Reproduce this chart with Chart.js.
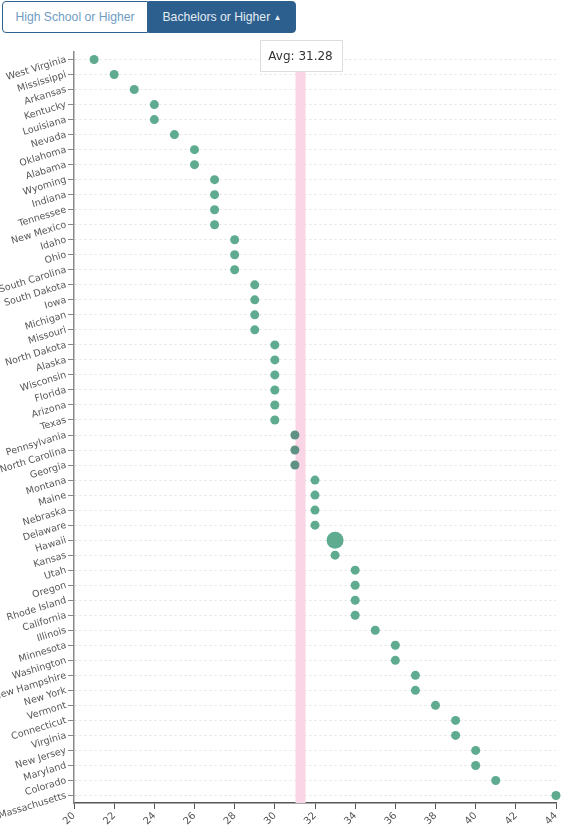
<!DOCTYPE html>
<html>
<head>
<meta charset="utf-8">
<script src="https://cdn.jsdelivr.net/npm/chart.js@4.4.1/dist/chart.umd.min.js"></script>
<style>
  body { margin: 0; background: #fff; font-family: "Liberation Sans", Arial, sans-serif; }
  .btns { position: absolute; left: 2px; top: 1px; display: flex; }
  .btn { height: 32px; box-sizing: border-box; font-size: 12.2px; padding: 0; border: 1px solid #2c6190;
         font-family: "Liberation Sans", Arial, sans-serif; }
  .btn.off { background: #fff; color: #6f9cc4; border-radius: 4px 0 0 4px; width: 146px; }
  .btn.on { background: #2c5f8e; color: #e3ebf3; border-radius: 0 4px 4px 0; width: 148px; }
  .caret { font-size: 8px; vertical-align: 1px; }
  #wrap { position: absolute; left: 0; top: 36px; width: 582px; height: 801px; }
</style>
</head>
<body>
<div class="btns">
  <button class="btn off">High School or Higher</button>
  <button class="btn on">Bachelors or Higher <span class="caret">&#9650;</span></button>
</div>
<div id="wrap"><canvas id="chart"></canvas></div>
<script>
// States sorted by share with a bachelor's degree or higher (%)
const states = [
  'West Virginia', 'Mississippi', 'Arkansas', 'Kentucky', 'Louisiana', 'Nevada',
  'Oklahoma', 'Alabama', 'Wyoming', 'Indiana', 'Tennessee', 'New Mexico',
  'Idaho', 'Ohio', 'South Carolina', 'South Dakota', 'Iowa', 'Michigan', 'Missouri',
  'North Dakota', 'Alaska', 'Wisconsin', 'Florida', 'Arizona', 'Texas',
  'Pennsylvania', 'North Carolina', 'Georgia', 'Montana', 'Maine', 'Nebraska',
  'Delaware', 'Hawaii', 'Kansas', 'Utah', 'Oregon', 'Rhode Island', 'California',
  'Illinois', 'Minnesota', 'Washington', 'New Hampshire', 'New York', 'Vermont',
  'Connecticut', 'Virginia', 'New Jersey', 'Maryland', 'Colorado', 'Massachusetts'
];
const bachelors = [
  21, 22, 23, 24, 24, 25,
  26, 26, 27, 27, 27, 27,
  28, 28, 28, 29, 29, 29, 29,
  30, 30, 30, 30, 30, 30,
  31, 31, 31, 32, 32, 32,
  32, 33, 33, 34, 34, 34, 34,
  35, 36, 36, 37, 37, 38,
  39, 39, 40, 40, 41, 44
];
const xMin = 20;
const xMax = 44;
const xStep = 2;
const highlighted = 'Hawaii';

const avg = bachelors.reduce((a, b) => a + b, 0) / bachelors.length;

const dotColor = '#5eab90';
const nearAvgColor = '#5f9284';

const avgBand = {
  id: 'avgBand',
  beforeDatasetsDraw(chart) {
    const {ctx, chartArea, scales: {x}} = chart;
    const x1 = x.getPixelForValue(avg - 0.25);
    const x2 = x.getPixelForValue(avg + 0.25);
    ctx.save();
    ctx.fillStyle = '#f9d5e5';
    ctx.fillRect(x1, chartArea.top, x2 - x1, chartArea.bottom - chartArea.top);
    ctx.restore();
  },
  afterDatasetsDraw(chart) {
    const {ctx, scales: {x}} = chart;
    const cx = x.getPixelForValue(avg);
    const text = 'Avg: ' + avg.toFixed(2);
    ctx.save();
    ctx.font = '12px "DejaVu Sans"';
    const w = Math.round(ctx.measureText(text).width + 18);
    const h = 31;
    const top = 4;
    const left = Math.round(cx - w / 2);
    ctx.fillStyle = '#fff';
    ctx.strokeStyle = '#dddddd';
    ctx.lineWidth = 1;
    ctx.fillRect(left, top, w, h);
    ctx.strokeRect(left + 0.5, top + 0.5, w, h);
    ctx.fillStyle = '#333';
    ctx.textAlign = 'center';
    ctx.textBaseline = 'middle';
    ctx.fillText(text, cx, top + h / 2 + 1);
    ctx.restore();
  }
};

const ctx = document.getElementById('chart').getContext('2d');
new Chart(ctx, {
  type: 'scatter',
  data: {
    datasets: [{
      data: states.map((s, i) => ({x: bachelors[i], y: s})),
      backgroundColor: c => Math.abs(bachelors[c.dataIndex] - avg) < 0.5 ? nearAvgColor : dotColor,
      borderWidth: 0,
      pointRadius: c => states[c.dataIndex] === highlighted ? 8.5 : 4.5,
      pointHoverRadius: c => states[c.dataIndex] === highlighted ? 8.5 : 4.5,
      clip: false
    }]
  },
  options: {
    responsive: true,
    maintainAspectRatio: false,
    animation: false,
    layout: { padding: { top: 16, right: 26, bottom: 4, left: 0 } },
    plugins: {
      legend: { display: false },
      tooltip: { enabled: false }
    },
    scales: {
      x: {
        type: 'linear',
        min: xMin,
        max: xMax,
        afterFit: s => { s.height = 30; },
        grid: { display: true, drawOnChartArea: false, drawTicks: true, tickLength: 6, tickColor: '#555' },
        border: { color: '#555', width: 1.5 },
        ticks: {
          stepSize: xStep,
          minRotation: 45,
          maxRotation: 45,
          padding: 1,
          color: '#555',
          font: { family: 'DejaVu Sans', size: 10 }
        }
      },
      y: {
        type: 'category',
        labels: states,
        offset: true,
        afterFit: s => { s.width = 74; },
        grid: { color: '#e2e2e2', lineWidth: 1, tickLength: 6, tickColor: '#888', tickBorderDash: [] },
        border: { color: '#888', width: 1.5, dash: [2, 3] },
        ticks: {
          autoSkip: false,
          minRotation: 17,
          maxRotation: 17,
          padding: 2,
          color: '#555',
          font: { family: 'DejaVu Sans', size: 9.5 }
        }
      }
    }
  },
  plugins: [avgBand]
});
</script>
</body>
</html>
